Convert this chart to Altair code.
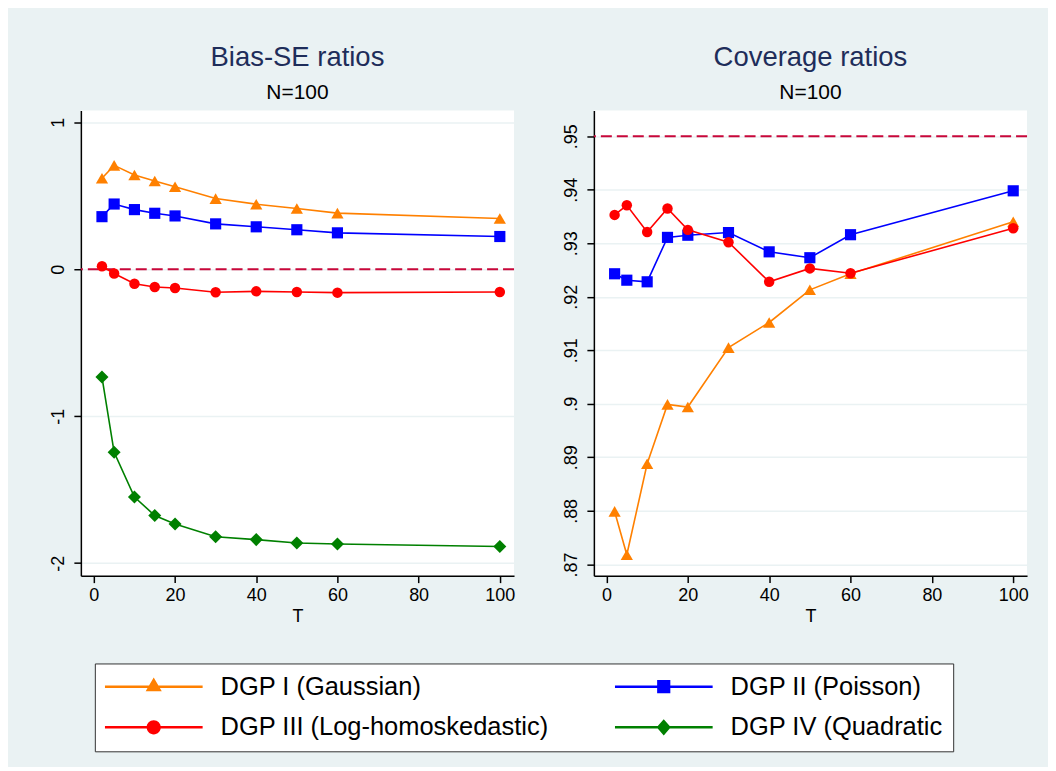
import altair as alt
import pandas as pd

# ---------------- data ----------------
T = [2, 5, 10, 15, 20, 30, 40, 50, 60, 100]
SERIES = ["DGP I (Gaussian)", "DGP II (Poisson)",
          "DGP III (Log-homoskedastic)", "DGP IV (Quadratic"]

bias_gauss = [0.618, 0.706, 0.641, 0.600, 0.561, 0.480, 0.442, 0.412, 0.381, 0.344]
bias_poisson = [0.357, 0.443, 0.405, 0.380, 0.362, 0.308, 0.288, 0.268, 0.247, 0.222]
bias_loghomo = [0.020, -0.030, -0.099, -0.121, -0.128, -0.157, -0.151, -0.155, -0.160, -0.155]
bias_quad = [-0.734, -1.246, -1.550, -1.676, -1.733, -1.820, -1.840, -1.863, -1.870, -1.887]

cov_gauss = [0.8799, 0.8718, 0.8888, 0.8999, 0.8994, 0.9105, 0.9152, 0.9213, 0.9243, 0.9340]
cov_poisson = [0.9243, 0.9231, 0.9228, 0.9311, 0.9315, 0.9320, 0.9284, 0.9273, 0.9316, 0.9398]
cov_loghomo = [0.9353, 0.9371, 0.9321, 0.9365, 0.9325, 0.9302, 0.9228, 0.9253, 0.9244, 0.9328]

X_TICKS = [0, 20, 40, 60, 80, 100]
BIAS_TICKS = [1, 0, -1, -2]
COV_TICKS = [0.95, 0.94, 0.93, 0.92, 0.91, 0.90, 0.89, 0.88, 0.87]

# ---------------- styles ----------------
COLORS = ["#FF8000", "#0000FF", "#FF0000", "#008000"]
SHAPES = ["triangle-up", "square", "circle", "diamond"]
MSIZE = [150, 125, 110, 170]
REF_COLOR = "#C8073A"
BG = "#EAF2F3"
TITLE_COLOR = "#1E2D5A"
FONT = "Liberation Sans"


def legend_path(marker):
    h = 0.025
    line = f"M-1,{-h}L1,{-h}L1,{h}L-1,{h}Z"
    if marker == "tri":
        m = "M0,-0.19L0.165,0.095L-0.165,0.095Z"
    elif marker == "sq":
        s = 0.135
        m = f"M{-s},{-s}L{s},{-s}L{s},{s}L{-s},{s}Z"
    elif marker == "circ":
        r = 0.145
        m = f"M{-r},0A{r},{r} 0 1 1 {r},0A{r},{r} 0 1 1 {-r},0Z"
    else:
        w, hh = 0.145, 0.165
        m = f"M0,{-hh}L{w},0L0,{hh}L{-w},0Z"
    return line + m


LEGEND_PATHS = [legend_path(k) for k in ["tri", "sq", "circ", "dia"]]
# legend entries fill column by column: left column I, III; right column II, IV
LEG_ORDER = [0, 2, 1, 3]


def to_df(names, arrays):
    rows = []
    for name, vals in zip(names, arrays):
        for t, v in zip(T, vals):
            rows.append({"series": name, "T": t, "value": v})
    return pd.DataFrame(rows)


bias_df = to_df(SERIES, [bias_gauss, bias_poisson, bias_loghomo, bias_quad])
cov_df = to_df(SERIES[:3], [cov_gauss, cov_poisson, cov_loghomo])


def panel(df, ref_value, xdom, ydom, yticks, label_expr, title, with_legend=False):
    x = alt.X("T:Q", scale=alt.Scale(domain=xdom, nice=False, zero=False),
              axis=alt.Axis(values=X_TICKS, title="T", grid=False, format="d"))
    y = alt.Y("value:Q", scale=alt.Scale(domain=ydom, nice=False, zero=False),
              axis=alt.Axis(values=yticks, title=None, grid=True, labelExpr=label_expr,
                            labelAngle=-90, labelAlign="center", labelBaseline="bottom",
                            labelPadding=6))
    ref = alt.Chart(pd.DataFrame({"value": [ref_value]})).mark_rule(
        color=REF_COLOR, strokeDash=[11, 5], strokeWidth=2).encode(y=y)
    layers = [ref]
    names = list(df["series"].unique())
    for name in names:
        i = SERIES.index(name)
        sub = alt.Chart(df).transform_filter(alt.datum.series == name)
        layers.append(sub.mark_line(color=COLORS[i], strokeWidth=1.6).encode(x=x, y=y))
        layers.append(sub.mark_point(filled=True, opacity=1, shape=SHAPES[i], size=MSIZE[i],
                                     color=COLORS[i]).encode(x=x, y=y))
    if with_legend:
        leg = alt.Legend(title=None, orient="none", legendX=14, legendY=554, columns=2,
                         columnPadding=66, rowPadding=14, clipHeight=26, symbolSize=9604,
                         symbolStrokeWidth=0, symbolOpacity=1, labelFont=FONT,
                         labelFontSize=25.5, labelColor="black", labelLimit=1000,
                         labelOffset=18, fillColor="white", strokeColor="#333333",
                         padding=10)
        dom = [SERIES[k] for k in LEG_ORDER]
        layers.append(alt.Chart(df).mark_point(filled=True, opacity=0).encode(
            x=x, y=y,
            color=alt.Color("series:N", scale=alt.Scale(domain=dom, range=[COLORS[k] for k in LEG_ORDER]),
                            legend=leg),
            shape=alt.Shape("series:N", scale=alt.Scale(domain=dom, range=[LEGEND_PATHS[k] for k in LEG_ORDER]),
                            legend=leg),
        ))
    return alt.layer(*layers).properties(
        width=434, height=466,
        title=alt.Title(title, subtitle="N=100", fontSize=27.5, subtitleFontSize=21,
                        color=TITLE_COLOR, subtitleColor="black", font=FONT, subtitleFont=FONT,
                        fontWeight="normal", anchor="middle", offset=8, subtitlePadding=10),
    )


left = panel(bias_df, 0, [-3.2, 103.5], [-2.085, 1.079], BIAS_TICKS,
             "datum.value + ''", "Bias-SE ratios", with_legend=True)
right = panel(cov_df, 0.95, [-3.1, 103.4], [0.8679, 0.9548], COV_TICKS,
              "replace(format(datum.value, '~g'), '0.', '.')", "Coverage ratios")

chart = alt.hconcat(left, right, spacing=47).properties(
    padding={"left": 42, "top": 35, "right": 19, "bottom": 14},
).configure(background=BG).configure_view(fill="white", stroke=None).configure_axis(
    domainColor="black", domainWidth=1.5, tickColor="black", tickWidth=1.5, tickSize=7,
    labelFont=FONT, labelFontSize=18, labelColor="black", labelPadding=4,
    titleFont=FONT, titleFontSize=18, titleFontWeight="normal", titleColor="black",
    titlePadding=3, gridColor=BG, gridWidth=1.5,
)

chart.save("out.html", embed_options={"renderer": "svg", "actions": False})
